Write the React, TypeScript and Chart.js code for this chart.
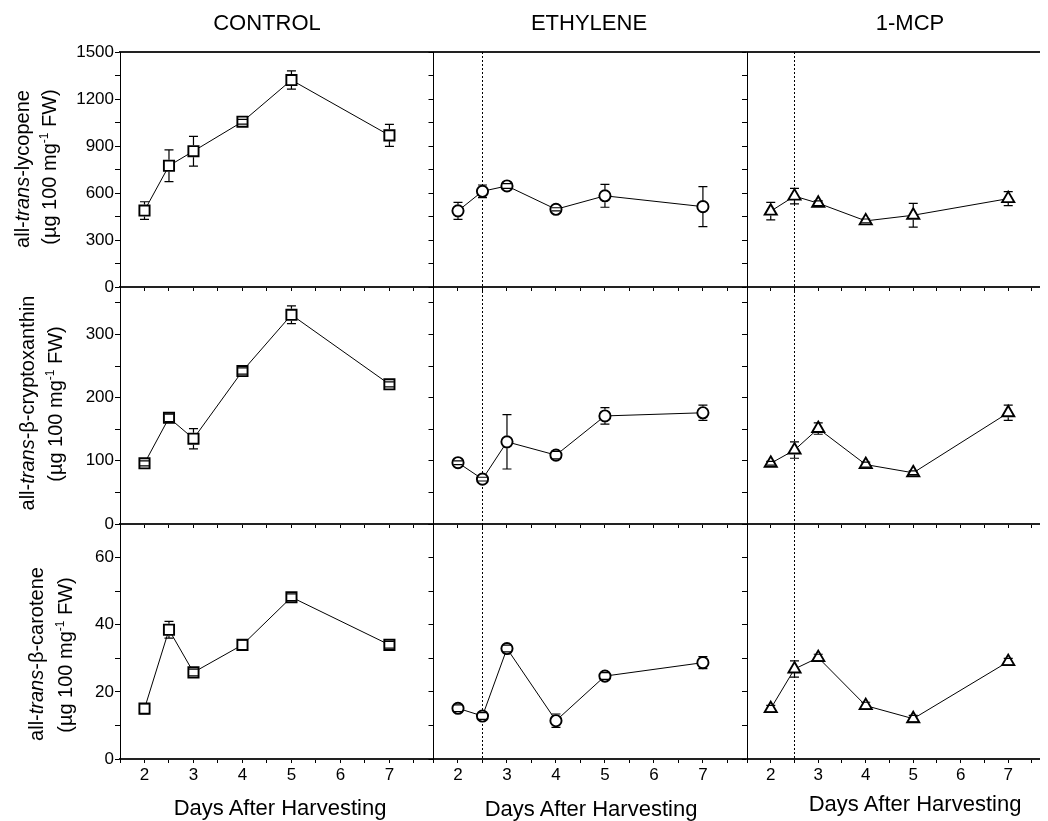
import React, { useEffect, useRef } from 'react';
import { Chart, registerables } from 'chart.js';

Chart.register(...registerables);

// ---------------- data ----------------
const days = [2, 2.5, 3, 4, 5, 7];
const xTickMarks = [1.5, 2, 2.5, 3, 3.5, 4, 4.5, 5, 5.5, 6, 6.5, 7, 7.5];
const xTickLabels = [2, 3, 4, 5, 6, 7];
const treatmentDay = 2.5;
const treatments = ['CONTROL', 'ETHYLENE', '1-MCP'];
const xTitle = 'Days After Harvesting';

// all-trans-lycopene (µg 100 mg-1 FW)
const controlLycopene = [488, 774, 867, 1055, 1321, 968];
const controlLycopeneErr = [56, 101, 95, 15, 58, 70];
const ethyleneLycopene = [486, 611, 645, 496, 582, 513];
const ethyleneLycopeneErr = [54, 40, 15, 10, 73, 128];
const mcpLycopene = [484, 580, 535, 422, 458, 564];
const mcpLycopeneErr = [56, 50, 15, 12, 76, 45];
const lycopeneTicks = [0, 150, 300, 450, 600, 750, 900, 1050, 1200, 1350, 1500];
const lycopeneLabels = [0, 300, 600, 900, 1200, 1500];

// all-trans-β-cryptoxanthin
const controlCrypto = [96, 168, 135, 242, 331, 221];
const controlCryptoErr = [4, 6, 16, 5, 14, 4];
const ethyleneCrypto = [97, 71, 130, 109, 171, 176];
const ethyleneCryptoErr = [3, 3, 43, 6, 13, 12];
const mcpCrypto = [96, 117, 151, 94, 81, 176];
const mcpCryptoErr = [3, 13, 9, 4, 3, 12];
const cryptoTicks = [0, 50, 100, 150, 200, 250, 300, 350];
const cryptoLabels = [0, 100, 200, 300];

// all-trans-β-carotene
const controlCarotene = [15, 38.5, 25.8, 34, 48.2, 34];
const controlCaroteneErr = [1.5, 2.5, 1, 1.5, 1, 1];
const ethyleneCarotene = [15.1, 12.8, 32.9, 11.4, 24.7, 28.7];
const ethyleneCaroteneErr = [1, 1, 1, 2, 1, 1.8];
const mcpCarotene = [15, 26.8, 30.2, 15.9, 12, 29];
const mcpCaroteneErr = [1, 2.4, 1, 1, 1, 1];
const caroteneTicks = [0, 10, 20, 30, 40, 50, 60, 70];
const caroteneLabels = [0, 20, 40, 60];

// ---------------- layout / style ----------------
const W = 1048;
const H = 821;
const FONT = "'Liberation Sans', Arial, Helvetica, sans-serif";
const Y_AXIS_W = 70;
const X_AXIS_H = 30;
const TICK_FONT = 17;

const COLS = [
  { left: 120, right: 433.5, xMax: 7.9 },
  { left: 433.5, right: 747, xMax: 7.9 },
  { left: 747, right: 1048, xMax: 7.65 },
];

const ROWS = [
  {
    top: 52, bottom: 287, max: 1500,
    values: [controlLycopene, ethyleneLycopene, mcpLycopene],
    errors: [controlLycopeneErr, ethyleneLycopeneErr, mcpLycopeneErr],
    ticks: lycopeneTicks, labels: lycopeneLabels,
  },
  {
    top: 287, bottom: 524, max: 375,
    values: [controlCrypto, ethyleneCrypto, mcpCrypto],
    errors: [controlCryptoErr, ethyleneCryptoErr, mcpCryptoErr],
    ticks: cryptoTicks, labels: cryptoLabels,
  },
  {
    top: 524, bottom: 759, max: 70,
    values: [controlCarotene, ethyleneCarotene, mcpCarotene],
    errors: [controlCaroteneErr, ethyleneCaroteneErr, mcpCaroteneErr],
    ticks: caroteneTicks, labels: caroteneLabels,
  },
];

const MARKERS = [
  { style: 'rect', radius: 7.2, up: 6, down: 6 },
  { style: 'circle', radius: 5.6, up: 6.4, down: 6.4 },
  { style: 'triangle', radius: 7, up: 7.8, down: 4.4 },
];

const errorBarPlugin = {
  id: 'errorBars',
  afterDatasetsDraw(chart: any) {
    const ds: any = chart.data.datasets[0];
    const errs: number[] = ds.errors;
    const vals: number[] = ds.values;
    const mk = ds.marker;
    const xs = chart.scales.x;
    const ys = chart.scales.y;
    const ctx = chart.ctx;
    ctx.save();
    ctx.strokeStyle = '#000';
    ctx.lineWidth = 1.2;
    ctx.setLineDash([]);
    const cap = 4.5;
    days.forEach((d, i) => {
      const x = xs.getPixelForValue(d);
      const yc = ys.getPixelForValue(vals[i]);
      const yt = ys.getPixelForValue(vals[i] + errs[i]);
      const yb = ys.getPixelForValue(vals[i] - errs[i]);
      ctx.beginPath();
      if (yt < yc - mk.up) {
        ctx.moveTo(x, yt);
        ctx.lineTo(x, yc - mk.up);
      }
      if (yb > yc + mk.down) {
        ctx.moveTo(x, yc + mk.down);
        ctx.lineTo(x, yb);
      }
      ctx.moveTo(x - cap, yt);
      ctx.lineTo(x + cap, yt);
      ctx.moveTo(x - cap, yb);
      ctx.lineTo(x + cap, yb);
      ctx.stroke();
    });
    ctx.restore();
  },
};

const treatmentLinePlugin = {
  id: 'treatmentLine',
  beforeDatasetsDraw(chart: any) {
    const xs = chart.scales.x;
    const { top, bottom } = chart.chartArea;
    const x = Math.round(xs.getPixelForValue(treatmentDay)) + 0.5;
    const ctx = chart.ctx;
    ctx.save();
    ctx.strokeStyle = '#000';
    ctx.lineWidth = 1;
    ctx.setLineDash([2, 2]);
    ctx.beginPath();
    ctx.moveTo(x, top);
    ctx.lineTo(x, bottom);
    ctx.stroke();
    ctx.restore();
  },
};

function Panel({ r, c }: { r: number; c: number }) {
  const ref = useRef<HTMLCanvasElement>(null);
  useEffect(() => {
    const row = ROWS[r];
    const col = COLS[c];
    const mk = MARKERS[c];
    const vals = row.values[c];
    const yW = c === 0 ? Y_AXIS_W : 0;
    const xH = r === 2 ? X_AXIS_H : 0;
    const chart = new Chart(ref.current as HTMLCanvasElement, {
      type: 'line',
      data: {
        datasets: [
          {
            data: days.map((d, i) => ({ x: d, y: vals[i] })),
            values: vals,
            errors: row.errors[c],
            marker: mk,
            borderColor: '#000',
            borderWidth: 1,
            pointStyle: mk.style,
            pointRadius: mk.radius,
            pointBorderWidth: 1.9,
            pointBorderColor: '#000',
            pointBackgroundColor: '#fff',
            tension: 0,
            fill: false,
            clip: false,
          } as any,
        ],
      },
      options: {
        responsive: false,
        animation: false,
        devicePixelRatio: 1,
        events: [],
        layout: {
          padding: {
            left: col.left - yW,
            right: W - col.right,
            top: row.top,
            bottom: H - row.bottom - xH,
          },
        },
        plugins: {
          legend: { display: false },
          tooltip: { enabled: false },
          title: { display: false },
        },
        scales: {
          x: {
            type: 'linear',
            position: 'bottom',
            min: 1.5,
            max: col.xMax,
            afterBuildTicks: (s: any) => {
              s.ticks = xTickMarks.filter((v) => v <= col.xMax).map((v) => ({ value: v }));
            },
            afterFit: (s: any) => {
              s.height = xH;
            },
            grid: { display: true, drawOnChartArea: false, drawTicks: true, tickLength: 4, color: '#000', lineWidth: 1 },
            border: { display: true, color: '#222', width: 2 },
            ticks: {
              display: r === 2,
              padding: 2,
              autoSkip: false,
              maxRotation: 0,
              color: '#000',
              font: { family: FONT, size: TICK_FONT },
              callback: (v: any) => (xTickLabels.includes(Number(v)) ? String(v) : ''),
            },
          },
          xTop: {
            type: 'linear',
            position: 'top',
            display: r === 0,
            min: 1.5,
            max: col.xMax,
            afterFit: (s: any) => {
              s.height = 0;
            },
            grid: { display: false, drawOnChartArea: false, drawTicks: false },
            border: { display: true, color: '#222', width: 2 },
            ticks: { display: false },
          },
          y: {
            type: 'linear',
            position: 'left',
            min: 0,
            max: row.max,
            afterBuildTicks: (s: any) => {
              s.ticks = row.ticks.map((v) => ({ value: v }));
            },
            afterFit: (s: any) => {
              s.width = yW;
            },
            grid: { display: true, drawOnChartArea: false, drawTicks: true, tickLength: 5, color: '#000', lineWidth: 1 },
            border: { display: true, color: '#000', width: 1 },
            ticks: {
              display: c === 0,
              padding: 1,
              autoSkip: false,
              color: '#000',
              font: { family: FONT, size: TICK_FONT },
              callback: (v: any) => (row.labels.includes(Number(v)) ? String(v) : ''),
            },
          },
        },
      } as any,
      plugins: c > 0 ? [treatmentLinePlugin, errorBarPlugin] : [errorBarPlugin],
    });
    return () => chart.destroy();
  }, [r, c]);
  return <canvas ref={ref} width={W} height={H} style={{ position: 'absolute', left: 0, top: 0 }} />;
}

const textBase: React.CSSProperties = {
  position: 'absolute',
  fontFamily: FONT,
  color: '#000',
  whiteSpace: 'nowrap',
};

function Label({ x, y, size, rotate, children }: any) {
  return (
    <div
      style={{
        ...textBase,
        left: x,
        top: y,
        fontSize: size,
        lineHeight: `${size}px`,
        transform: rotate ? 'translate(-50%, -50%) rotate(-90deg)' : 'translate(-50%, -50%)',
      }}
    >
      {children}
    </div>
  );
}

const unitLine = (
  <>
    (µg 100 mg<span style={{ fontSize: 12, position: 'relative', top: -8 }}>-1</span> FW)
  </>
);

const titlePos = [
  { x: 267, y: 23 },
  { x: 589, y: 23 },
  { x: 910, y: 23 },
];
const xTitlePos = [
  { x: 280, y: 808 },
  { x: 591, y: 808.5 },
  { x: 915, y: 803.5 },
];

export default function App() {
  return (
    <div style={{ position: 'fixed', left: 0, top: 0, width: W, height: H, background: '#fff', overflow: 'hidden' }}>
      {[0, 1, 2].map((r) => [0, 1, 2].map((c) => <Panel key={`${r}-${c}`} r={r} c={c} />))}
      {treatments.map((t, i) => (
        <Label key={t} x={titlePos[i].x} y={titlePos[i].y} size={22}>
          {t}
        </Label>
      ))}
      {xTitlePos.map((p, i) => (
        <Label key={`xt${i}`} x={p.x} y={p.y} size={22}>
          {xTitle}
        </Label>
      ))}
      <Label x={22} y={169} size={20} rotate>
        all-<i>trans</i>-lycopene
      </Label>
      <Label x={50} y={166.5} size={20} rotate>
        {unitLine}
      </Label>
      <Label x={27} y={402.5} size={20} rotate>
        all-<i>trans</i>-β-cryptoxanthin
      </Label>
      <Label x={55.5} y={403.5} size={20} rotate>
        {unitLine}
      </Label>
      <Label x={36} y={653.5} size={20} rotate>
        all-<i>trans</i>-β-carotene
      </Label>
      <Label x={66} y={655} size={20} rotate>
        {unitLine}
      </Label>
    </div>
  );
}
